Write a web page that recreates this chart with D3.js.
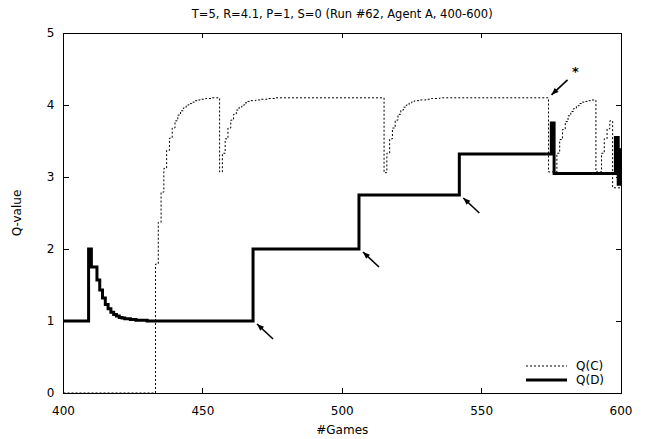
<!DOCTYPE html>
<html>
<head>
<meta charset="utf-8">
<script src="https://cdn.jsdelivr.net/npm/d3@7"></script>
<style>
  body { margin: 0; background: #fff; }
  text { font-family: "DejaVu Sans", sans-serif; fill: #000; }
</style>
</head>
<body>
<svg id="chart" width="654" height="439"></svg>
<script>
// Q(C): game where the value changes, and the new value (step after)
const qcGame = [400, 433, 434, 435, 436, 437, 438, 439, 440, 441, 442, 443, 444, 445, 446, 447, 448, 449, 451, 453,
  456, 457, 458, 459, 460, 461, 462, 463, 464, 465, 466, 467, 469, 471, 473, 476,
  515, 516, 517, 518, 519, 520, 521, 522, 523, 524, 525, 526, 528, 530, 532, 535,
  574, 577, 578, 579, 580, 581, 582, 583, 584, 585, 586, 587, 588, 589,
  591, 593, 594, 595, 596, 597, 600]
const qcValue = [0, 1.79, 2.37, 2.79, 3.12, 3.37, 3.54, 3.68, 3.78, 3.86, 3.92, 3.96, 4.0, 4.02, 4.04, 4.06, 4.07, 4.08, 4.09, 4.1,
  3.07, 3.33, 3.53, 3.68, 3.79, 3.87, 3.93, 3.97, 4.0, 4.03, 4.05, 4.06, 4.07, 4.08, 4.09, 4.1,
  3.06, 3.33, 3.53, 3.68, 3.79, 3.87, 3.93, 3.97, 4.0, 4.03, 4.05, 4.06, 4.07, 4.08, 4.09, 4.1,
  3.07, 3.33, 3.52, 3.66, 3.77, 3.85, 3.91, 3.95, 3.99, 4.02, 4.04, 4.05, 4.06, 4.07,
  3.07, 3.33, 3.53, 3.67, 3.78, 2.85, 2.85]

// Q(D)
const qdGame = [400, 409, 410, 412, 413, 414, 415, 416, 417, 418, 419, 420, 421, 422, 424, 426, 430,
  468, 506, 542, 575, 576, 598, 599, 600]
const qdValue = [1, 2, 1.75, 1.57, 1.43, 1.32, 1.23, 1.17, 1.12, 1.09, 1.07, 1.05, 1.04, 1.03, 1.02, 1.01, 1,
  2, 2.75, 3.32, 3.75, 3.05, 3.55, 2.9, 3.4]

const xTicks = [400, 450, 500, 550, 600]
const yTicks = [0, 1, 2, 3, 4, 5]

// arrows pointing at the Q(D) steps, and the starred Q(C) drop
const arrowGame = [468, 506, 542]
const arrowValue = [1, 2, 2.75]
const starGame = 574
const starValue = 4.1

const title = 'T=5, R=4.1, P=1, S=0 (Run #62, Agent A, 400-600)'

const mLeft = 63.5, mRight = 621, mTop = 33, mBottom = 393

const svg = d3.select('#chart')

const x = d3.scaleLinear().domain([400, 600]).range([mLeft, mRight])
const y = d3.scaleLinear().domain([0, 5]).range([mBottom, mTop])

const defs = svg.append('defs')
defs.append('clipPath').attr('id', 'plot')
  .append('rect')
    .attr('x', mLeft).attr('y', mTop - 2)
    .attr('width', mRight - mLeft).attr('height', mBottom - mTop + 4)

defs.append('marker')
  .attr('id', 'head')
  .attr('viewBox', '0 0 10 10')
  .attr('refX', 10).attr('refY', 5)
  .attr('markerWidth', 8).attr('markerHeight', 7)
  .attr('markerUnits', 'userSpaceOnUse')
  .attr('orient', 'auto')
  .append('path')
    .attr('d', 'M0,1 L10,5 L0,9 Z')
    .attr('fill', '#000')

// ticks, inward on all four sides
const tk = 5
const g = svg.append('g').attr('stroke', '#000').attr('stroke-width', 1).attr('shape-rendering', 'crispEdges')
xTicks.forEach(t => {
  g.append('line').attr('x1', x(t)).attr('x2', x(t)).attr('y1', mBottom).attr('y2', mBottom - tk)
  g.append('line').attr('x1', x(t)).attr('x2', x(t)).attr('y1', mTop).attr('y2', mTop + tk)
})
yTicks.forEach(t => {
  g.append('line').attr('x1', mLeft).attr('x2', mLeft + tk).attr('y1', y(t)).attr('y2', y(t))
  g.append('line').attr('x1', mRight).attr('x2', mRight - tk).attr('y1', y(t)).attr('y2', y(t))
})

svg.append('g').attr('font-size', 12).attr('text-anchor', 'middle')
  .selectAll('text').data(xTicks).join('text')
    .attr('x', d => x(d)).attr('y', mBottom + 22)
    .text(d => d)

svg.append('g').attr('font-size', 12).attr('text-anchor', 'end')
  .selectAll('text').data(yTicks).join('text')
    .attr('x', mLeft - 9).attr('y', d => y(d) + 4)
    .text(d => d)

const line = (gs, vs) => d3.line()
  .x(i => x(gs[i]))
  .y(i => y(vs[i]))
  .curve(d3.curveStepAfter)(d3.range(gs.length))

const plot = svg.append('g').attr('clip-path', 'url(#plot)')

plot.append('path')
  .attr('d', line(qcGame, qcValue))
  .attr('fill', 'none')
  .attr('stroke', '#000')
  .attr('stroke-width', 1)
  .attr('stroke-dasharray', '2,2')

plot.append('path')
  .attr('d', line(qdGame, qdValue))
  .attr('fill', 'none')
  .attr('stroke', '#000')
  .attr('stroke-width', 3)
  .attr('stroke-linejoin', 'miter')

// frame
svg.append('rect')
  .attr('x', mLeft).attr('y', mTop)
  .attr('width', mRight - mLeft).attr('height', mBottom - mTop)
  .attr('fill', 'none').attr('stroke', '#000').attr('stroke-width', 1)
  .attr('shape-rendering', 'crispEdges')

// arrows
arrowGame.forEach((gm, i) => {
  const px = x(gm), py = y(arrowValue[i])
  svg.append('line')
    .attr('x1', px + 20).attr('y1', py + 18)
    .attr('x2', px + 4).attr('y2', py + 3)
    .attr('stroke', '#000').attr('stroke-width', 1.6)
    .attr('marker-end', 'url(#head)')
})
{
  const px = x(starGame), py = y(starValue)
  svg.append('line')
    .attr('x1', px + 19).attr('y1', py - 18)
    .attr('x2', px + 3).attr('y2', py - 3)
    .attr('stroke', '#000').attr('stroke-width', 1.6)
    .attr('marker-end', 'url(#head)')
  svg.append('text')
    .attr('x', px + 27).attr('y', py - 22)
    .attr('font-size', 13).attr('font-weight', 'bold').attr('text-anchor', 'middle')
    .text('*')
}

// legend
const legend = [
  { name: 'Q(C)', dash: '2,2', w: 1 },
  { name: 'Q(D)', dash: null, w: 3 }
]
legend.forEach((d, i) => {
  const ly = 366 + i * 14
  svg.append('line')
    .attr('x1', 526).attr('x2', 567).attr('y1', ly).attr('y2', ly)
    .attr('stroke', '#000').attr('stroke-width', d.w)
    .attr('stroke-dasharray', d.dash)
  svg.append('text')
    .attr('x', 576).attr('y', ly + 4)
    .attr('font-size', 12)
    .text(d.name)
})

// titles
svg.append('text')
  .attr('x', (mLeft + mRight) / 2).attr('y', 18)
  .attr('text-anchor', 'middle').attr('font-size', 11.5)
  .text(title)

svg.append('text')
  .attr('x', (mLeft + mRight) / 2).attr('y', 434)
  .attr('text-anchor', 'middle').attr('font-size', 12)
  .text('#Games')

svg.append('text')
  .attr('transform', `translate(21,${(mTop + mBottom) / 2}) rotate(-90)`)
  .attr('text-anchor', 'middle').attr('font-size', 12)
  .text('Q-value')
</script>
</body>
</html>
